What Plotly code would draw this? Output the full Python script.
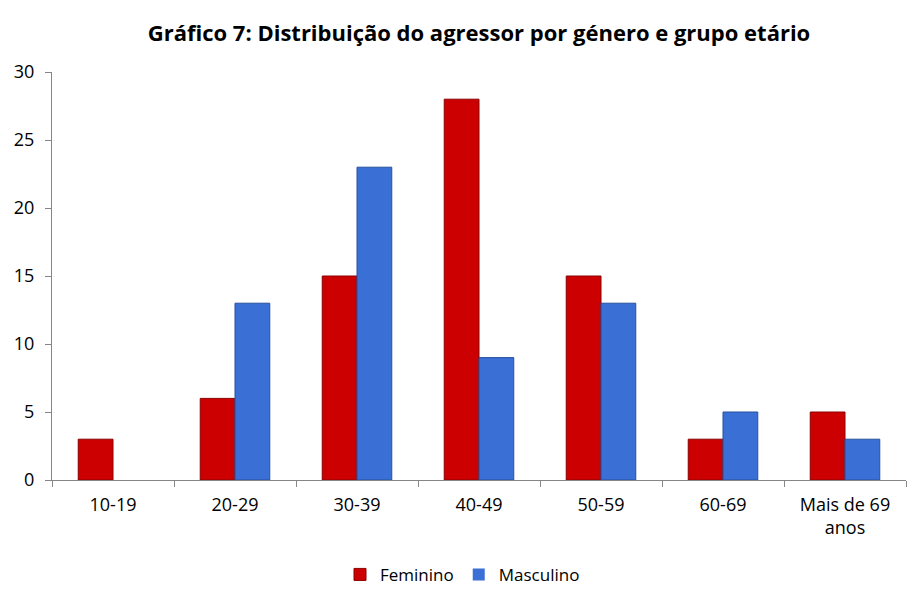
import plotly.graph_objects as go

categories = ["10-19", "20-29", "30-39", "40-49", "50-59", "60-69", "Mais de 69<br>anos"]
feminino = [3, 6, 15, 28, 15, 3, 5]
masculino = [0, 13, 23, 9, 13, 5, 3]
y_ticks = [0, 5, 10, 15, 20, 25, 30]

FONT = "Open Sans"

fig = go.Figure()
fig.add_trace(go.Bar(
    name="Feminino", x=categories, y=feminino,
    marker=dict(color="#CC0000",
                line=dict(color="#8B0000", width=[0 if v == 0 else 1 for v in feminino])),
))
fig.add_trace(go.Bar(
    name="Masculino", x=categories, y=masculino,
    marker=dict(color="#3A6FD6",
                line=dict(color="#27509E", width=[0 if v == 0 else 1 for v in masculino])),
))

# page body has an 8px margin, so the figure is sized to fill the rest of the window
fig.update_layout(
    width=909, height=582,
    paper_bgcolor="white", plot_bgcolor="white",
    margin=dict(l=44, r=11, t=64, b=110, autoexpand=False),
    barmode="group", bargap=0.43, bargroupgap=0,
    title=dict(
        text="<b>Gráfico 7: Distribuição do agressor por género e grupo etário</b>",
        x=0.5, xanchor="center", xref="paper", yref="container", y=0.957, yanchor="middle",
        font=dict(family=FONT, size=22, color="#000000"),
    ),
    font=dict(family=FONT, size=18, color="#000000"),
    legend=dict(
        orientation="h", x=0.5, xanchor="center", xref="container",
        y=0.026, yanchor="middle", yref="container",
        font=dict(family=FONT, size=17), traceorder="normal",
    ),
    showlegend=True,
)
fig.update_xaxes(
    showline=True, linecolor="#868686", linewidth=1,
    ticks="outside", tickson="boundaries", ticklen=6, tickcolor="#868686",
    showgrid=False, tickfont=dict(family=FONT, size=18), ticklabelstandoff=8,
    automargin=False,
)
fig.update_yaxes(
    range=[0, 30], tickvals=y_ticks, showline=True, linecolor="#868686", linewidth=1,
    ticks="outside", ticklen=6, tickcolor="#868686", showgrid=False, zeroline=False,
    tickfont=dict(family=FONT, size=18), ticklabelstandoff=7, automargin=False,
)

fig.write_html("out.html")
